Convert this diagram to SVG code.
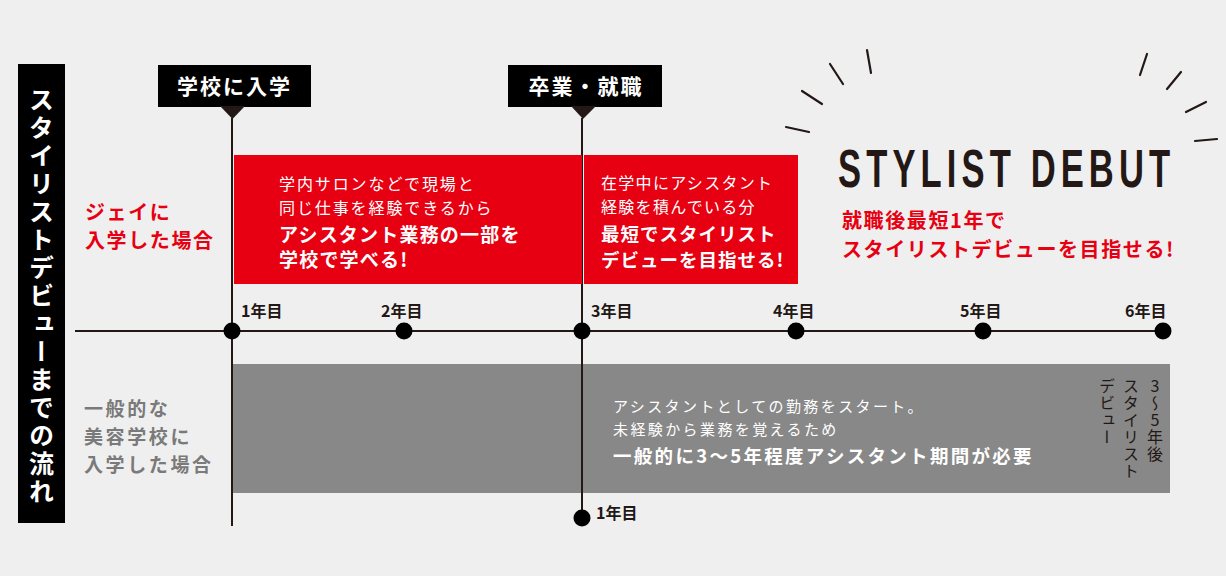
<svg xmlns="http://www.w3.org/2000/svg" width="1226" height="576" viewBox="0 0 1226 576">
<style>
text{font-family:"Noto Sans CJK JP","Liberation Sans",sans-serif}
.b{font-weight:700}
.w{fill:#ffffff}
.red{fill:#e60012}
.dk{fill:#231815}
.gl{fill:#7a7a7a}
.yr{font-size:16px;font-weight:700;fill:#231815}
.ln{stroke:#231815;stroke-width:2;fill:none}
.ray{stroke:#231815;stroke-width:2.2;stroke-linecap:round}
.dot{fill:#000000}
.vt{writing-mode:vertical-rl}
</style>
<rect width="1226" height="576" fill="#efefef"/>

<g id="title-banner">
<rect x="18" y="64" width="47" height="459" fill="#000000"/>
<text class="vt b w" x="41.5" y="87" font-size="25" letter-spacing="3">スタイリストデビューまでの流れ</text>
</g>

<g id="connectors">
<line class="ln" x1="232" y1="118" x2="232" y2="526"/>
<line class="ln" x1="582" y1="118" x2="582" y2="519"/>
<line class="ln" x1="75" y1="331" x2="1163" y2="331" stroke-width="2.5"/>
</g>

<g id="box-j">
<rect x="234" y="155" width="348" height="129" fill="#e60012"/>
<text class="w" font-size="16" letter-spacing="1.9"><tspan x="279" y="190">学内サロンなどで現場と</tspan><tspan x="279" y="214">同じ仕事を経験できるから</tspan></text>
<text class="w b" font-size="19" letter-spacing="1.2"><tspan x="279" y="242">アシスタント業務の一部を</tspan><tspan x="279" y="267">学校で学べる!</tspan></text>
</g>

<g id="box-j2">
<rect x="584" y="155" width="214" height="129" fill="#e60012"/>
<text class="w" font-size="16" letter-spacing="1.3"><tspan x="601" y="189">在学中にアシスタント</tspan><tspan x="601" y="213">経験を積んでいる分</tspan></text>
<text class="w b" font-size="18.5" letter-spacing="1"><tspan x="601" y="241">最短でスタイリスト</tspan><tspan x="601" y="267">デビューを目指せる!</tspan></text>
</g>

<g id="box-general">
<rect x="233" y="364" width="937" height="129" fill="#888888"/>
<line class="ln" x1="582" y1="364" x2="582" y2="493"/>
<line class="ln" x1="232" y1="364" x2="232" y2="493"/>
<text class="w" font-size="15" letter-spacing="2.4"><tspan x="613" y="412">アシスタントとしての勤務をスタート。</tspan><tspan x="613" y="435">未経験から業務を覚えるため</tspan></text>
<text class="w b" font-size="18.5" letter-spacing="2.3" x="613" y="463">一般的に3～5年程度アシスタント期間が必要</text>
<text class="vt dk" x="1155" y="378" font-size="16" letter-spacing="1" style="text-orientation:upright">3～5年後</text>
<text class="vt dk" x="1131" y="378" font-size="16" letter-spacing="1">スタイリスト</text>
<text class="vt dk" x="1107" y="378" font-size="16" letter-spacing="1">デビュー</text>
</g>

<g id="label-enroll">
<rect x="158" y="65" width="153" height="42" fill="#000000"/>
<polygon points="220,106 245,106 232.5,119" fill="#231815"/>
<text class="w b" x="234.5" y="94" font-size="21" letter-spacing="2" text-anchor="middle">学校に入学</text>
</g>

<g id="label-graduate">
<rect x="508" y="65" width="154" height="42" fill="#000000"/>
<polygon points="571,106 596,106 583,119" fill="#231815"/>
<text class="w b" x="586" y="94" font-size="21" letter-spacing="2" text-anchor="middle">卒業・就職</text>
</g>

<g id="row-labels">
<text class="red b" font-size="20" letter-spacing="1.6"><tspan x="85" y="220">ジェイに</tspan><tspan x="85" y="248">入学した場合</tspan></text>
<text class="gl b" font-size="19" letter-spacing="2.6"><tspan x="84" y="416">一般的な</tspan><tspan x="84" y="444">美容学校に</tspan><tspan x="84" y="472">入学した場合</tspan></text>
</g>

<g id="timeline-points">
<circle class="dot" cx="232" cy="331" r="8.5"/>
<circle class="dot" cx="404" cy="331" r="8.5"/>
<circle class="dot" cx="582" cy="331" r="8.5"/>
<circle class="dot" cx="796" cy="331" r="8.5"/>
<circle class="dot" cx="983" cy="331" r="8.5"/>
<circle class="dot" cx="1163" cy="331" r="8.5"/>
<circle class="dot" cx="582" cy="518" r="8.5"/>
<text class="yr" x="241" y="317">1年目</text>
<text class="yr" x="381" y="317">2年目</text>
<text class="yr" x="591" y="317">3年目</text>
<text class="yr" x="773" y="317">4年目</text>
<text class="yr" x="960" y="317">5年目</text>
<text class="yr" x="1125" y="317">6年目</text>
<text class="yr" x="596" y="519">1年目</text>
</g>

<g id="debut">
<line class="ray" x1="786" y1="127" x2="809" y2="132"/>
<line class="ray" x1="802" y1="91" x2="822" y2="104"/>
<line class="ray" x1="830" y1="64" x2="843" y2="84"/>
<line class="ray" x1="867" y1="50" x2="871" y2="73"/>
<line class="ray" x1="1147" y1="54" x2="1140" y2="75"/>
<line class="ray" x1="1181" y1="72" x2="1167" y2="89"/>
<line class="ray" x1="1206" y1="102" x2="1186" y2="112"/>
<line class="ray" x1="1217" y1="139" x2="1195" y2="141"/>
<text transform="translate(838,187) scale(0.64,1)" style="font-family:'Liberation Sans',Arial,sans-serif" font-size="54" font-weight="700" letter-spacing="8" fill="#231815">STYLIST DEBUT</text>
<text class="red b" font-size="20" letter-spacing="1.6"><tspan x="842" y="228">就職後最短1年で</tspan><tspan x="842" y="257">スタイリストデビューを目指せる!</tspan></text>
</g>
</svg>
